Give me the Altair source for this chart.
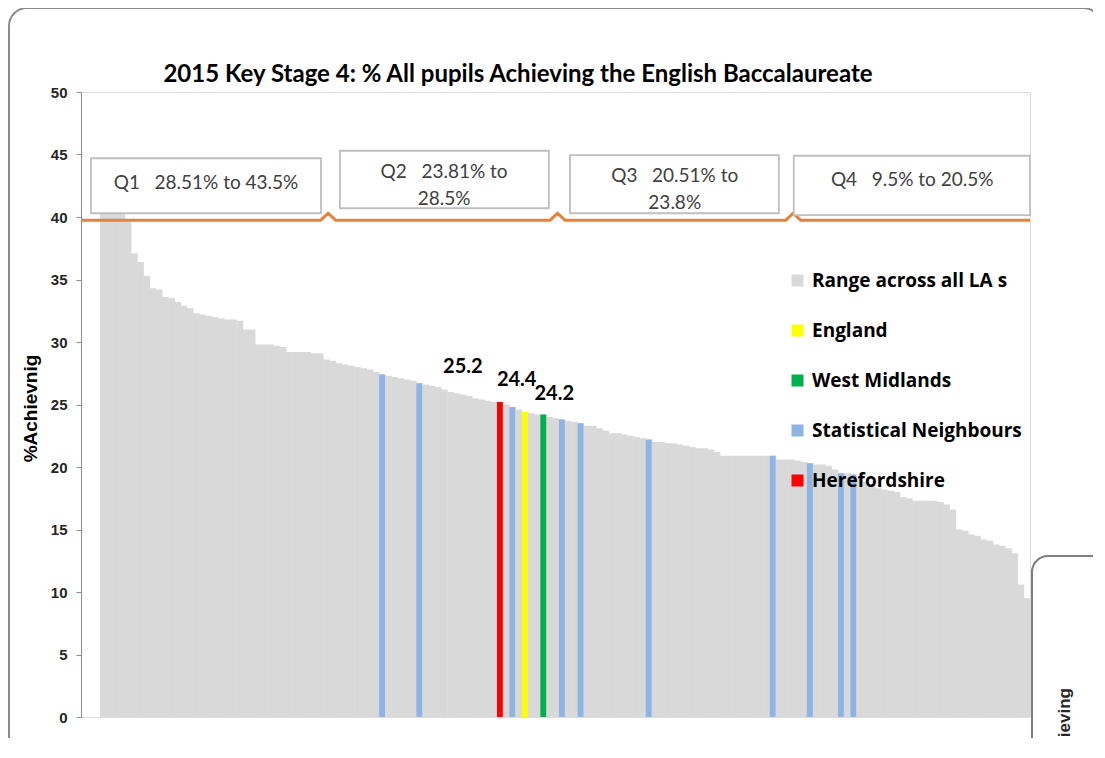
import altair as alt
import pandas as pd

# ---------------- data ----------------
title_text = "2015 Key Stage 4: % All pupils Achieving the English Baccalaureate"
y_title = "%Achievnig"

values = [
    43.5, 41.6, 40.9, 40.5, 39.8, 37.1, 36.4, 35.3, 34.3, 34.2,
    33.6, 33.5, 33.2, 32.9, 32.7, 32.3, 32.2, 32.1, 32.0, 31.9,
    31.8, 31.8, 31.7, 31.0, 31.0, 29.8, 29.8, 29.8, 29.7, 29.6,
    29.2, 29.2, 29.2, 29.2, 29.1, 29.1, 28.6, 28.5, 28.3, 28.2,
    28.1, 28.0, 27.9, 27.8, 27.6, 27.4, 27.3, 27.2, 27.1, 27.0,
    26.9, 26.7, 26.6, 26.5, 26.4, 26.2, 26.0, 25.9, 25.8, 25.7,
    25.5, 25.4, 25.3, 25.2, 25.2, 25.0, 24.8, 24.6, 24.4, 24.3,
    24.2, 24.2, 24.0, 23.9, 23.8, 23.7, 23.6, 23.5, 23.3, 23.3,
    23.1, 22.9, 22.7, 22.7, 22.6, 22.5, 22.4, 22.3, 22.2, 22.0,
    22.0, 21.9, 21.9, 21.8, 21.7, 21.6, 21.5, 21.5, 21.4, 21.2,
    20.9, 20.9, 20.9, 20.9, 20.9, 20.9, 20.9, 20.9, 20.9, 20.6,
    20.6, 20.6, 20.5, 20.4, 20.3, 20.2, 20.2, 20.1, 19.8, 19.5,
    19.5, 19.4, 19.1, 18.8, 18.6, 18.3, 18.2, 18.1, 18.0, 17.6,
    17.5, 17.3, 17.3, 17.3, 17.3, 17.2, 17.0, 16.6, 15.0, 14.9,
    14.6, 14.5, 14.2, 14.1, 13.8, 13.7, 13.5, 13.1, 10.6, 9.5,
]

neighbour_idx = [45, 51, 66, 74, 77, 88, 108, 114, 119, 121]
england_idx = [68]
west_midlands_idx = [71]
hereford_idx = [64]

series_names = ["Range across all LA s", "England", "West Midlands",
                "Statistical Neighbours", "Herefordshire"]
series_colors = ["#D9D9D9", "#FFFF00", "#00B050", "#8DB4E2", "#FF0000"]

quartile_starts = [37, 74, 112]
brace_level = 39.75
S = "\u00a0\u00a0\u00a0"
quartile_text = ["Q1" + S + "28.51% to 43.5%", "Q2" + S + "23.81% to\n28.5%",
                 "Q3" + S + "20.51% to\n23.8%", "Q4" + S + "9.5% to 20.5%"]
box_x0 = [-1.45, 38.7, 75.8, 111.9]
box_x1 = [35.65, 72.4, 109.5, 150.0]
box_y0 = [40.3, 40.7, 40.3, 40.15]
box_y1 = [44.7, 45.3, 44.95, 44.9]
text_x = [17.1, 55.5, 92.7, 131.0]
text_y = [42.72, 43.6, 43.28, 42.96]

label_idx = [64, 68, 71]
label_text = ["25.2", "24.4", "24.2"]

# ---------------- tables ----------------
n = len(values)
group = [series_names[0]] * n
for i in neighbour_idx:
    group[i] = series_names[3]
for i in england_idx:
    group[i] = series_names[1]
for i in west_midlands_idx:
    group[i] = series_names[2]
for i in hereford_idx:
    group[i] = series_names[4]

df = pd.DataFrame({"idx": list(range(n)), "value": values, "group": group})

brace_x = [-3.06]
brace_y = [brace_level]
for b in quartile_starts:
    brace_x += [b - 1.4, b - 0.2, b + 1.0]
    brace_y += [brace_level, brace_level + 0.55, brace_level]
brace_x.append(150.0)
brace_y.append(brace_level)
brace_df = pd.DataFrame({"x": brace_x, "y": brace_y, "o": list(range(len(brace_x)))})

box_df = pd.DataFrame({"x0": box_x0, "x1": box_x1, "y0": box_y0, "y1": box_y1,
                       "tx": text_x, "ty": text_y, "t": quartile_text})

lab_df = pd.DataFrame({"idx": label_idx, "t": label_text,
                       "value": [values[i] for i in label_idx]})

one = pd.DataFrame({"a": [0]})

# ---------------- scales ----------------
xscale = alt.Scale(domain=[-3.06, 150], nice=False, zero=False)
yscale = alt.Scale(domain=[0, 50], nice=False)
cscale = alt.Scale(domain=series_names, range=series_colors)

FONT = "Lato"

frame = alt.Chart(one).mark_rect(
    fillOpacity=0, stroke="#8C8C8C", strokeWidth=2, cornerRadius=18
).encode(x=alt.value(-72), x2=alt.value(1020), y=alt.value(-84), y2=alt.value(720))

title_mark = alt.Chart(one).transform_calculate(t="'" + title_text + "'").mark_text(
    font=FONT, fontSize=24, fontWeight="bold", color="#000000",
    align="center", baseline="middle"
).encode(x=alt.value(437), y=alt.value(-17), text="t:N")

gray = alt.Chart(df).transform_calculate(
    x0="datum.idx", x1="datum.idx + 1.08", g="'Range across all LA s'"
).mark_bar().encode(
    x=alt.X("x0:Q", scale=xscale, axis=None),
    x2="x1:Q",
    y=alt.Y("value:Q", scale=yscale,
            axis=alt.Axis(values=list(range(0, 51, 5)), title=y_title,
                          titleX=-51, titleY=316, titleAngle=270,
                          titleAlign="center", titleBaseline="middle",
                          titleFont="Liberation Sans", titleFontSize=19,
                          titleFontWeight="bold", titleColor="#000000",
                          labelFont="Liberation Sans", labelFontSize=15,
                          labelFontWeight="bold", labelColor="#262626",
                          labelPadding=9, tickSize=5, tickColor="#8C8C8C",
                          domainColor="#8C8C8C", grid=False)),
    y2=alt.datum(0),
    color=alt.Color("g:N", scale=cscale, title=None,
                    legend=alt.Legend(orient="none", legendX=707, legendY=179,
                                      symbolType="square", symbolSize=144,
                                      symbolStrokeWidth=0, symbolOpacity=1,
                                      labelFont="Open Sans", labelFontSize=19,
                                      labelFontWeight="bold", labelColor="#000000",
                                      labelOffset=5, rowPadding=30, padding=0,
                                      labelLimit=400)),
)

colored = alt.Chart(df).transform_filter(
    "datum.group != 'Range across all LA s'"
).transform_calculate(
    x0="datum.idx + 0.03", x1="datum.idx + 0.97"
).mark_bar().encode(
    x=alt.X("x0:Q", scale=xscale, axis=None),
    x2="x1:Q",
    y=alt.Y("value:Q", scale=yscale),
    y2=alt.datum(0),
    color=alt.Color("group:N", scale=cscale, title=None),
)

brace = alt.Chart(brace_df).mark_line(color="#E8823A", strokeWidth=3).encode(
    x=alt.X("x:Q", scale=xscale, axis=None),
    y=alt.Y("y:Q", scale=yscale),
    order="o:Q",
)

boxes = alt.Chart(box_df).mark_rect(fill="white", stroke="#BFBFBF", strokeWidth=1.8).encode(
    x=alt.X("x0:Q", scale=xscale, axis=None), x2="x1:Q",
    y=alt.Y("y0:Q", scale=yscale), y2="y1:Q",
)

box_text = alt.Chart(box_df).mark_text(
    font=FONT, fontSize=19, color="#404040", lineBreak="\n", lineHeight=27,
    align="center", baseline="middle"
).encode(
    x=alt.X("tx:Q", scale=xscale, axis=None),
    y=alt.Y("ty:Q", scale=yscale),
    text="t:N",
)

label_offsets = [(-37, -35), (-8, -32), (11, -21)]
label_layers = []
for k, (dx, dy) in enumerate(label_offsets):
    label_layers.append(
        alt.Chart(lab_df.iloc[[k]]).transform_calculate(xc="datum.idx + 0.5").mark_text(
            font=FONT, fontSize=20, fontWeight="bold", color="#000000",
            align="center", baseline="middle", dx=dx, dy=dy
        ).encode(
            x=alt.X("xc:Q", scale=xscale, axis=None),
            y=alt.Y("value:Q", scale=yscale),
            text="t:N",
        )
    )

remnant = alt.Chart(one).mark_rect(
    fill="white", stroke="#7F7F7F", strokeWidth=2, cornerRadius=16
).encode(x=alt.value(951), x2=alt.value(1120), y=alt.value(464), y2=alt.value(720))

remnant_text = alt.Chart(one).transform_calculate(t="'ieving'").mark_text(
    font="Liberation Sans", fontSize=17, fontWeight="bold", color="#262626",
    angle=270, align="right", baseline="middle"
).encode(x=alt.value(984), y=alt.value(596), text="t:N")

chart = alt.layer(
    frame, title_mark, gray, colored, brace, boxes, box_text, *label_layers,
    remnant, remnant_text
).resolve_scale(color="shared").properties(
    width=949, height=625,
    autosize=alt.AutoSizeParams(type="none"),
    padding={"left": 73, "top": 84, "right": 63, "bottom": 21},
).configure_view(stroke=None).configure(background="white")

chart.save("out.html", embed_options={"renderer": "svg", "actions": False})
